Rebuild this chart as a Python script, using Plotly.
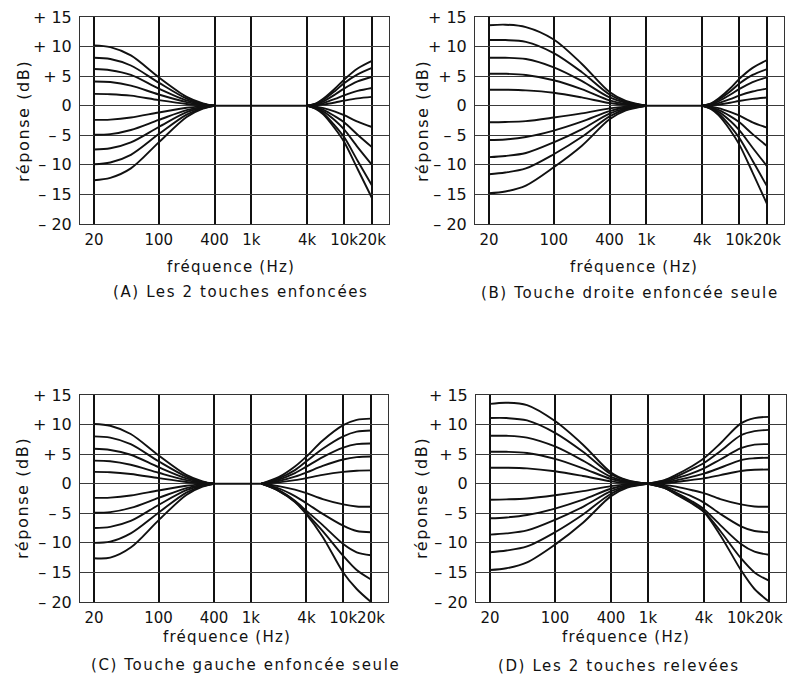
import plotly.graph_objects as go

# ---------------- data ----------------
x_tickvals = [20, 100, 400, 1000, 4000, 10000, 20000]
x_ticktext = ["20", "100", "400", "1k", "4k", "10k", "20k"]
y_tickvals = [15, 10, 5, 0, -5, -10, -15, -20]
y_ticktext = ["+ 15", "+ 10", "+ 5", "0", "– 5", "– 10", "– 15", "– 20"]

captions = ["(A) Les 2 touches enfoncées",
            "(B) Touche droite enfoncée seule",
            "(C) Touche gauche enfoncée seule",
            "(D) Les 2 touches relevées"]
x_title = "fréquence (Hz)"
y_title = "réponse (dB)"

# Panel A
A_bass_f = [20, 30, 50, 100, 200, 300, 400]
A_bass = [
    [10.2, 9.9, 8.5, 4.8, 1.5, 0.4, 0],
    [8.1, 7.9, 6.8, 3.9, 1.2, 0.3, 0],
    [6.2, 6.0, 5.2, 2.9, 0.9, 0.25, 0],
    [4.1, 4.0, 3.4, 1.9, 0.6, 0.15, 0],
    [2.0, 1.95, 1.7, 0.95, 0.3, 0.08, 0],
    [-2.4, -2.35, -2.0, -1.15, -0.35, -0.1, 0],
    [-4.9, -4.8, -4.1, -2.4, -0.75, -0.2, 0],
    [-7.4, -7.2, -6.2, -3.6, -1.1, -0.3, 0],
    [-9.9, -9.6, -8.3, -4.8, -1.5, -0.4, 0],
    [-12.6, -12.2, -10.6, -6.2, -1.9, -0.5, 0],
]
A_treb_f = [4000, 5000, 6000, 8000, 10000, 14000, 20000]
A_treb = [
    [0, 0.4, 1.2, 2.9, 4.4, 6.3, 7.6],
    [0, 0.35, 1.0, 2.5, 3.8, 5.3, 6.4],
    [0, 0.25, 0.75, 1.9, 2.9, 4.1, 4.9],
    [0, 0.15, 0.45, 1.15, 1.75, 2.5, 3.0],
    [0, 0.08, 0.22, 0.55, 0.85, 1.25, 1.5],
    [0, -0.15, -0.4, -1.0, -1.6, -2.7, -3.6],
    [0, -0.3, -0.7, -1.8, -2.8, -4.9, -7.0],
    [0, -0.4, -1.0, -2.5, -4.0, -7.0, -10.0],
    [0, -0.5, -1.3, -3.4, -5.3, -9.3, -13.5],
    [0, -0.6, -1.5, -3.9, -6.1, -10.7, -15.6],
]

# Panel B
B_bass_f = [20, 30, 50, 100, 200, 400, 600, 1000]
B_bass = [
    [13.6, 13.7, 13.3, 11.2, 7.1, 2.3, 0.8, 0],
    [11.1, 11.1, 10.8, 8.9, 5.7, 1.9, 0.65, 0],
    [8.1, 8.1, 7.9, 6.5, 4.2, 1.4, 0.5, 0],
    [5.4, 5.4, 5.2, 4.3, 2.8, 0.9, 0.3, 0],
    [2.7, 2.7, 2.6, 2.2, 1.4, 0.45, 0.15, 0],
    [-2.8, -2.75, -2.6, -2.0, -1.3, -0.45, -0.15, 0],
    [-5.8, -5.7, -5.3, -4.2, -2.7, -0.9, -0.3, 0],
    [-8.7, -8.5, -8.0, -6.2, -4.0, -1.35, -0.45, 0],
    [-11.6, -11.3, -10.6, -8.2, -5.3, -1.8, -0.6, 0],
    [-14.8, -14.5, -13.5, -10.4, -6.8, -2.3, -0.8, 0],
]
B_treb_f = [4000, 5000, 6000, 8000, 10000, 14000, 20000]
B_treb = [
    [0, 0.4, 1.2, 2.9, 4.5, 6.4, 7.7],
    [0, 0.35, 1.0, 2.4, 3.7, 5.2, 6.2],
    [0, 0.25, 0.75, 1.85, 2.8, 4.0, 4.8],
    [0, 0.15, 0.45, 1.1, 1.7, 2.4, 2.9],
    [0, 0.07, 0.2, 0.5, 0.8, 1.15, 1.4],
    [0, -0.15, -0.4, -1.05, -1.65, -2.8, -3.7],
    [0, -0.3, -0.7, -1.75, -2.75, -4.8, -6.8],
    [0, -0.4, -1.0, -2.55, -4.1, -7.1, -10.2],
    [0, -0.5, -1.3, -3.4, -5.4, -9.3, -13.6],
    [0, -0.6, -1.6, -4.1, -6.5, -11.3, -16.6],
]

# Panel C
C_bass_f = [20, 30, 50, 100, 200, 300, 400]
C_bass = [
    [10.1, 9.8, 8.4, 4.8, 1.5, 0.4, 0],
    [8.0, 7.8, 6.7, 3.8, 1.2, 0.3, 0],
    [5.9, 5.7, 4.9, 2.8, 0.9, 0.25, 0],
    [3.9, 3.8, 3.2, 1.85, 0.6, 0.15, 0],
    [2.0, 1.95, 1.65, 0.95, 0.3, 0.08, 0],
    [-2.4, -2.35, -2.0, -1.15, -0.35, -0.1, 0],
    [-4.9, -4.8, -4.1, -2.4, -0.75, -0.2, 0],
    [-7.5, -7.3, -6.3, -3.6, -1.1, -0.3, 0],
    [-10.0, -9.8, -8.4, -4.9, -1.5, -0.4, 0],
    [-12.6, -12.5, -10.8, -6.2, -1.9, -0.5, 0],
]
C_treb_f = [1300, 2000, 3000, 4000, 6000, 10000, 14000, 20000]
C_treb = [
    [0, 1.1, 2.9, 4.6, 7.3, 9.9, 10.8, 11.0],
    [0, 0.9, 2.3, 3.8, 5.9, 8.0, 8.8, 9.0],
    [0, 0.7, 1.8, 2.9, 4.5, 6.1, 6.7, 6.8],
    [0, 0.45, 1.2, 1.9, 3.0, 4.1, 4.5, 4.6],
    [0, 0.22, 0.6, 0.95, 1.5, 2.0, 2.2, 2.25],
    [0, -0.4, -1.0, -1.6, -2.6, -3.5, -3.85, -3.9],
    [0, -0.8, -2.1, -3.3, -5.1, -7.1, -8.0, -8.2],
    [0, -1.1, -2.9, -4.6, -7.0, -10.2, -11.6, -12.1],
    [0, -1.2, -3.0, -5.0, -8.0, -12.2, -14.6, -16.2],
    [0, -1.2, -3.1, -5.2, -9.0, -15.0, -17.8, -20.0],
]

# Panel D
D_bass_f = [20, 30, 50, 100, 200, 400, 600, 1000]
D_bass = [
    [13.5, 13.7, 13.3, 10.6, 6.6, 1.9, 0.6, 0],
    [11.1, 11.1, 10.7, 8.6, 5.4, 1.6, 0.5, 0],
    [8.1, 8.1, 7.8, 6.3, 3.9, 1.15, 0.35, 0],
    [5.4, 5.4, 5.2, 4.2, 2.6, 0.8, 0.25, 0],
    [2.7, 2.7, 2.6, 2.1, 1.3, 0.4, 0.12, 0],
    [-2.7, -2.65, -2.5, -1.95, -1.25, -0.4, -0.12, 0],
    [-5.85, -5.7, -5.3, -4.2, -2.7, -0.85, -0.25, 0],
    [-8.6, -8.4, -7.9, -6.1, -3.9, -1.25, -0.4, 0],
    [-11.6, -11.3, -10.6, -8.2, -5.2, -1.7, -0.5, 0],
    [-14.6, -14.3, -13.3, -10.3, -6.6, -2.1, -0.65, 0],
]
D_treb_f = [1000, 1500, 2000, 3000, 4000, 6000, 10000, 14000, 20000]
D_treb = [
    [0, 0.6, 1.5, 3.0, 4.3, 6.8, 10.2, 11.1, 11.3],
    [0, 0.5, 1.2, 2.5, 3.5, 5.5, 8.2, 8.9, 9.1],
    [0, 0.35, 0.9, 1.8, 2.6, 4.1, 6.0, 6.6, 6.7],
    [0, 0.22, 0.57, 1.2, 1.7, 2.7, 4.0, 4.3, 4.4],
    [0, 0.12, 0.3, 0.65, 0.9, 1.45, 2.15, 2.35, 2.4],
    [0, -0.2, -0.5, -1.1, -1.6, -2.6, -3.5, -3.85, -3.9],
    [0, -0.4, -1.1, -2.2, -3.2, -5.1, -7.2, -8.0, -8.2],
    [0, -0.6, -1.5, -3.0, -4.3, -7.0, -10.2, -11.5, -12.0],
    [0, -0.7, -1.7, -3.3, -4.7, -8.0, -12.6, -15.0, -16.4],
    [0, -0.7, -1.8, -3.4, -4.8, -8.7, -14.6, -17.8, -19.9],
]

panels = [
    (A_bass_f, A_bass, A_treb_f, A_treb),
    (B_bass_f, B_bass, B_treb_f, B_treb),
    (C_bass_f, C_bass, C_treb_f, C_treb),
    (D_bass_f, D_bass, D_treb_f, D_treb),
]

# ---------------- layout geometry (pixels of 788x679 page) ----------------
W, H = 788, 679
boxes = [  # left, right, top, bottom in pixels
    (80, 389, 17, 224),
    (475, 784, 17, 224),
    (80, 388, 395, 602),
    (476, 786, 395, 602),
]
ytitle_pos = [(23, 121), (422, 121), (23, 498), (422, 498)]
xtitle_pos = [(231, 267), (634, 267), (227, 637), (626, 637)]
caption_pos = [(241, 292), (630, 293), (245, 665), (619, 666)]

FONT = "DejaVu Sans"
INK = "#111111"


def spaced(text, px):
    return '<span style="letter-spacing:%spx">%s</span>' % (px, text)


fig = go.Figure()
layout = dict(
    width=W, height=H, margin=dict(l=0, r=0, t=0, b=0),
    paper_bgcolor="white", plot_bgcolor="white", showlegend=False,
    font=dict(family=FONT, size=15, color=INK),
)
annotations = []

for i, (bf, bv, tf, tv) in enumerate(panels):
    n = "" if i == 0 else str(i + 1)
    xa, ya = "x" + n, "y" + n
    line = dict(color=INK, width=1.9, shape="spline", smoothing=0.9)
    for vals in bv:
        fig.add_trace(go.Scatter(x=bf, y=vals, mode="lines", line=line,
                                 xaxis=xa, yaxis=ya, hoverinfo="skip"))
    fig.add_trace(go.Scatter(x=[bf[-1], tf[0]], y=[0, 0], mode="lines",
                             line=dict(color=INK, width=1.9),
                             xaxis=xa, yaxis=ya, hoverinfo="skip"))
    for vals in tv:
        fig.add_trace(go.Scatter(x=tf, y=vals, mode="lines", line=line,
                                 xaxis=xa, yaxis=ya, hoverinfo="skip"))

    l, r, t, b = boxes[i]
    layout["xaxis" + n] = dict(
        type="log", range=[1.15, 4.485], domain=[l / W, r / W],
        anchor=ya, tickmode="array", tickvals=x_tickvals, ticktext=x_ticktext,
        tickangle=0,
        showgrid=True, gridcolor=INK, gridwidth=1.5,
        showline=True, mirror=True, linecolor="#333333", linewidth=1,
        ticks="", ticklabelstandoff=2, zeroline=False, automargin=False,
        tickfont=dict(family=FONT, size=15, color=INK), fixedrange=True,
    )
    layout["yaxis" + n] = dict(
        range=[-20, 15], domain=[1 - b / H, 1 - t / H], anchor=xa,
        tickmode="array", tickvals=y_tickvals, ticktext=y_ticktext,
        showgrid=True, gridcolor="#3a3a3a", gridwidth=1.1,
        showline=True, mirror=True, linecolor="#333333", linewidth=1,
        ticks="", ticklabelstandoff=4, zeroline=False, automargin=False,
        tickfont=dict(family=FONT, size=16, color=INK), fixedrange=True,
    )
    yx, yy = ytitle_pos[i]
    annotations.append(dict(text=spaced(y_title, 1.6), x=yx / W, y=1 - yy / H,
                            xref="paper", yref="paper", showarrow=False,
                            textangle=-90, xanchor="center", yanchor="middle",
                            font=dict(family=FONT, size=16, color=INK)))
    tx, ty = xtitle_pos[i]
    annotations.append(dict(text=spaced(x_title, 1.2), x=tx / W, y=1 - ty / H,
                            xref="paper", yref="paper", showarrow=False,
                            xanchor="center", yanchor="middle",
                            font=dict(family=FONT, size=15, color=INK)))
    cx, cy = caption_pos[i]
    annotations.append(dict(text=spaced(captions[i], 1.6), x=cx / W, y=1 - cy / H,
                            xref="paper", yref="paper", showarrow=False,
                            xanchor="center", yanchor="middle",
                            font=dict(family=FONT, size=15, color=INK)))

layout["annotations"] = annotations
fig.update_layout(**layout)
fig.write_html(
    "out.html",
    config={"displayModeBar": False},
    post_script="document.body.style.margin='0px';"
                "document.body.style.overflow='hidden';",
)
